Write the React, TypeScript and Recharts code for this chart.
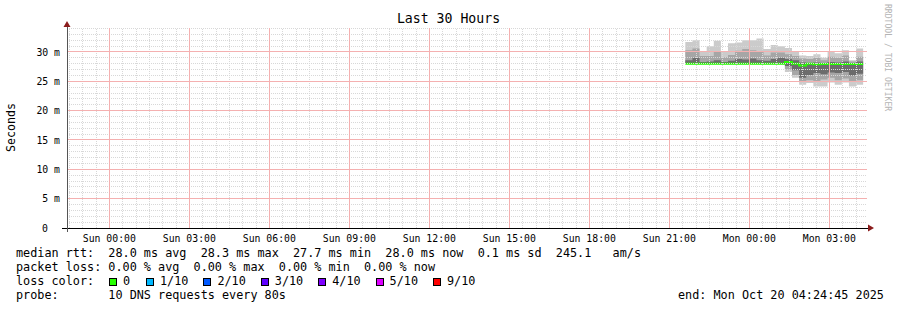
import React from "react";
import {
  ComposedChart,
  Area,
  Line,
  XAxis,
  YAxis,
  ReferenceLine,
  ReferenceDot,
} from "recharts";

const MONO = '"DejaVu Sans Mono", monospace';

// time axis: hours relative to Sun 00:00, window is the last 30 hours
const X_MIN = -1.5875;
const X_MAX = 28.4125;
const Y_MAX = 34.09;

const X_TICKS = [0, 3, 6, 9, 12, 15, 18, 21, 24, 27];
const X_TICK_LABELS = [
  "Sun 00:00",
  "Sun 03:00",
  "Sun 06:00",
  "Sun 09:00",
  "Sun 12:00",
  "Sun 15:00",
  "Sun 18:00",
  "Sun 21:00",
  "Mon 00:00",
  "Mon 03:00",
];
const Y_TICKS = [0, 5, 10, 15, 20, 25, 30];

// smoke columns start at ~Sun 21:36, one every 16 minutes
const SMOKE_START = 21.6;
const SMOKE_STEP = 0.2667;

// rtt in ms, sorted ping percentiles per column
const pMax = [31.7, 32.0, 30.0, 31.0, 31.9, 30.0, 31.5, 31.6, 32.0, 32.0, 32.3, 30.5, 31.2, 31.0, 30.7, 30.0, 29.4, 29.3, 29.6, 29.0, 30.0, 29.8, 30.3, 28.6, 30.6];
const p9 = [30.3, 30.6, 29.3, 29.3, 30.1, 29.1, 29.5, 30.2, 30.5, 30.3, 30.1, 29.4, 29.9, 29.9, 29.6, 29.3, 28.9, 28.8, 29.0, 28.6, 29.2, 29.0, 29.4, 28.4, 29.2];
const p7 = [28.6, 29.0, 28.3, 28.4, 28.6, 28.3, 28.5, 28.8, 28.7, 28.9, 28.6, 28.5, 28.8, 29.0, 28.8, 28.6, 28.2, 28.1, 28.2, 28.1, 28.3, 28.2, 28.4, 28.1, 28.4];
const median = [28.0, 28.0, 28.0, 28.0, 28.0, 28.0, 28.0, 28.0, 28.0, 28.0, 28.0, 28.0, 28.0, 28.0, 28.3, 28.0, 27.7, 28.0, 27.9, 27.95, 27.95, 27.95, 27.95, 27.95, 27.95];
const p4 = [28.0, 28.0, 28.0, 28.0, 28.0, 28.0, 28.0, 28.0, 28.0, 28.0, 28.0, 28.0, 28.0, 28.0, 27.6, 26.9, 25.6, 26.1, 26.4, 26.2, 26.5, 26.4, 26.6, 26.0, 26.3];
const p2 = [27.95, 27.95, 27.95, 27.95, 27.95, 27.95, 27.95, 27.95, 27.95, 27.95, 27.95, 27.95, 27.95, 27.95, 27.0, 26.1, 24.9, 25.2, 25.0, 25.3, 25.6, 25.2, 25.5, 24.9, 25.2];
const pMin = [27.9, 27.9, 27.9, 27.9, 27.9, 27.9, 27.9, 27.9, 27.9, 27.9, 27.9, 27.9, 27.9, 27.9, 26.6, 25.6, 24.4, 24.7, 24.1, 24.1, 24.8, 24.4, 24.8, 24.1, 24.4];

const LOSS_COLORS = [
  { label: "0", color: "#26ff00" },
  { label: "1/10", color: "#00b8ff" },
  { label: "2/10", color: "#0059ff" },
  { label: "3/10", color: "#5e00ff" },
  { label: "4/10", color: "#7e00ff" },
  { label: "5/10", color: "#dd00ff" },
  { label: "9/10", color: "#ff0000" },
];
const LOSS_BOX_X = [109, 146, 203.4, 260.8, 318.2, 375.6, 433];

const rows = median.map((m, i) => ({
  t: SMOKE_START + i * SMOKE_STEP,
  outer: [pMin[i], pMax[i]],
  mid: [p2[i], p9[i]],
  core: [p4[i], p7[i]],
  median: m,
}));
// close the last step
rows.push({ ...rows[rows.length - 1], t: SMOKE_START + median.length * SMOKE_STEP });

const hours: number[] = [];
for (let h = -1.5; h <= 28.4; h += 0.5) hours.push(h);
const minorX = hours.filter((h) => h % 3 !== 0);
const levels: number[] = [];
for (let v = 1; v <= 34; v++) levels.push(v);
const minorY = levels.filter((v) => v % 5 !== 0);
const majorY = Y_TICKS.filter((v) => v > 0);

const MINOR = "#d8d8d8";
const MAJOR = "#f4b0b0";

const YTick = ({ x, y, payload }: any) => {
  const v = payload.value;
  return (
    <text
      x={v === 0 ? x - 12 : x}
      y={y + 3.7}
      textAnchor="end"
      fontFamily={MONO}
      fontSize={9.8}
      fill="#000"
    >
      {v === 0 ? "0" : `${v} m`}
    </text>
  );
};

const XTick = ({ x, y, payload, index }: any) => (
  <text x={x} y={y + 6.3} textAnchor="middle" fontFamily={MONO} fontSize={9.8} fill="#000">
    {X_TICK_LABELS[index] ?? payload.value}
  </text>
);

const arrowRight = ({ cx, cy }: any) => (
  <polygon points={`${cx + 1},${cy - 3.5} ${cx + 7},${cy} ${cx + 1},${cy + 3.5}`} fill="#8b1c1c" />
);
const arrowUp = ({ cx, cy }: any) => (
  <polygon points={`${cx - 3.5},${cy - 1} ${cx},${cy - 7} ${cx + 3.5},${cy - 1}`} fill="#8b1c1c" />
);

const gridLine = (seg: { x: number; y: number }[], color: string, key: string, dash?: string) => (
  <ReferenceLine
    key={key}
    segment={seg}
    stroke={color}
    strokeDasharray={dash}
    ifOverflow="visible"
    shapeRendering="crispEdges"
  />
);

export default function App() {
  return (
    <div
      style={{
        position: "absolute",
        left: 0,
        top: 0,
        width: 897,
        height: 310,
        background: "#fff",
      }}
    >
      <ComposedChart
        width={897}
        height={310}
        data={rows}
        margin={{ top: 28, right: 30, left: 0, bottom: 52 }}
      >
        <XAxis
          type="number"
          dataKey="t"
          domain={[X_MIN, X_MAX]}
          allowDataOverflow
          ticks={X_TICKS}
          tick={<XTick />}
          tickLine={false}
          axisLine={false}
          tickMargin={2}
          height={30}
        />
        <YAxis
          type="number"
          domain={[0, Y_MAX]}
          allowDataOverflow
          ticks={Y_TICKS}
          tick={<YTick />}
          tickLine={false}
          axisLine={false}
          tickMargin={1}
          width={67}
        />
        <Area
          type="stepAfter"
          dataKey="outer"
          stroke="none"
          fill="#cbcbcb"
          fillOpacity={1}
          isAnimationActive={false}
        />
        <Area
          type="stepAfter"
          dataKey="mid"
          stroke="none"
          fill="#a6a6a6"
          fillOpacity={1}
          isAnimationActive={false}
        />
        <Area
          type="stepAfter"
          dataKey="core"
          stroke="none"
          fill="#6c6c6c"
          fillOpacity={1}
          isAnimationActive={false}
        />
        <Line
          type="stepAfter"
          dataKey="median"
          stroke="#26ff00"
          strokeWidth={2}
          dot={false}
          isAnimationActive={false}
        />
        {minorY.map((v) =>
          gridLine([{ x: X_MIN, y: v }, { x: X_MAX, y: v }], MINOR, `hy${v}`, "1 1")
        )}
        {minorX.map((h) =>
          gridLine([{ x: h, y: 0 }, { x: h, y: Y_MAX }], MINOR, `vx${h}`, "1 1")
        )}
        {majorY.map((v) =>
          gridLine([{ x: X_MIN, y: v }, { x: X_MAX, y: v }], MAJOR, `HY${v}`)
        )}
        {X_TICKS.map((h) =>
          gridLine([{ x: h, y: 0 }, { x: h, y: Y_MAX }], MAJOR, `VX${h}`)
        )}
        <ReferenceLine
          segment={[{ x: X_MIN - 0.19, y: 0 }, { x: X_MAX + 0.05, y: 0 }]}
          stroke="#000"
          ifOverflow="visible"
          shapeRendering="crispEdges"
        />
        <ReferenceLine
          segment={[{ x: X_MIN, y: -0.7 }, { x: X_MIN, y: Y_MAX + 0.4 }]}
          stroke="#555"
          ifOverflow="visible"
          shapeRendering="crispEdges"
        />
        <ReferenceDot x={X_MAX} y={0} ifOverflow="visible" shape={arrowRight} />
        <ReferenceDot x={X_MIN} y={Y_MAX} ifOverflow="visible" shape={arrowUp} />
      </ComposedChart>

      <svg
        width={897}
        height={310}
        style={{ position: "absolute", left: 0, top: 0, pointerEvents: "none" }}
        fontFamily={MONO}
      >
        <text x={448.5} y={23.3} textAnchor="middle" fontSize={13.2} fill="#000">
          Last 30 Hours
        </text>
        <text
          transform="translate(15,127.5) rotate(-90)"
          textAnchor="middle"
          fontSize={11.6}
          fill="#000"
        >
          Seconds
        </text>
        <text transform="translate(885,4) rotate(90)" fontSize={8.1} fill="#b4b4b4">
          RRDTOOL / TOBI OETIKER
        </text>
        <g fontSize={11.8} fill="#000" style={{ whiteSpace: "pre" }}>
          <text x={16} y={256.5} xmlSpace="preserve">
            median rtt:  28.0 ms avg  28.3 ms max  27.7 ms min  28.0 ms now  0.1 ms sd  245.1   am/s
          </text>
          <text x={16} y={270.5} xmlSpace="preserve">
            packet loss: 0.00 % avg  0.00 % max  0.00 % min  0.00 % now
          </text>
          <text x={16} y={284.5} xmlSpace="preserve">
            loss color:
          </text>
          {LOSS_COLORS.map((item, i) => (
            <g key={item.label}>
              <rect
                x={LOSS_BOX_X[i] + 0.5}
                y={278.5}
                width={7}
                height={7}
                fill={item.color}
                stroke="#000"
                strokeWidth={1}
                shapeRendering="crispEdges"
              />
              <text x={LOSS_BOX_X[i] + 14} y={284.5}>
                {item.label}
              </text>
            </g>
          ))}
          <text x={16} y={298.5} xmlSpace="preserve">
            probe:       10 DNS requests every 80s
          </text>
          <text x={678} y={298.5} xmlSpace="preserve">
            end: Mon Oct 20 04:24:45 2025
          </text>
        </g>
      </svg>
    </div>
  );
}
